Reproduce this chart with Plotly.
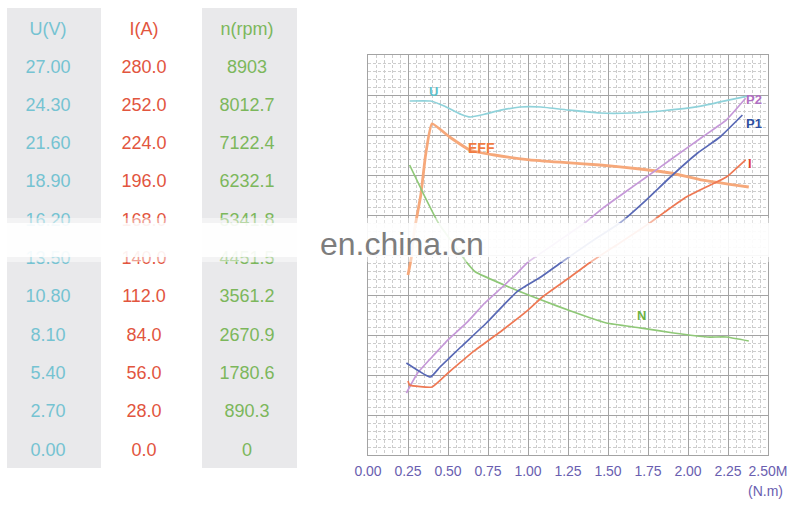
import plotly.graph_objects as go

# ---------------- table data ----------------
u_header = "U(V)"
i_header = "I(A)"
n_header = "n(rpm)"
u_values = ["27.00", "24.30", "21.60", "18.90", "16.20", "13.50", "10.80", "8.10", "5.40", "2.70", "0.00"]
i_values = ["280.0", "252.0", "224.0", "196.0", "168.0", "140.0", "112.0", "84.0", "56.0", "28.0", "0.0"]
n_values = ["8903", "8012.7", "7122.4", "6232.1", "5341.8", "4451.5", "3561.2", "2670.9", "1780.6", "890.3", "0"]

# ---------------- curve data (x: torque N.m, y: grid divisions) ----------------
U_x = [0.26, 0.39, 0.48, 0.58, 0.64, 0.73, 0.83, 0.95, 1.08, 1.26, 1.45, 1.64, 1.83, 2.08, 2.26, 2.38]
U_y = [8.85, 8.85, 8.72, 8.52, 8.45, 8.52, 8.62, 8.70, 8.70, 8.62, 8.55, 8.55, 8.60, 8.72, 8.88, 8.98]

EFF_x = [0.25, 0.27, 0.29, 0.33, 0.36, 0.40, 0.51, 0.64, 0.79, 1.01, 1.20, 1.45, 1.70, 1.89, 2.08, 2.38]
EFF_y = [4.50, 4.92, 5.62, 6.50, 7.50, 8.28, 7.95, 7.62, 7.50, 7.38, 7.32, 7.25, 7.15, 7.05, 6.88, 6.70]

N_x = [0.26, 0.35, 0.44, 0.53, 0.62, 0.67, 0.88, 1.08, 1.28, 1.49, 1.70, 1.91, 2.12, 2.24, 2.38]
N_y = [7.25, 6.50, 5.80, 5.30, 4.80, 4.58, 4.20, 3.88, 3.58, 3.30, 3.18, 3.05, 2.95, 2.95, 2.85]

P2_x = [0.24, 0.31, 0.40, 0.50, 0.62, 0.73, 0.84, 0.92, 1.00, 1.18, 1.36, 1.47, 1.61, 1.74, 1.89, 2.09, 2.24, 2.36]
P2_y = [1.55, 2.05, 2.45, 2.88, 3.32, 3.80, 4.20, 4.50, 4.82, 5.32, 5.82, 6.18, 6.58, 6.95, 7.38, 7.95, 8.38, 8.92]

P1_x = [0.24, 0.39, 0.45, 0.58, 0.74, 0.93, 1.08, 1.21, 1.39, 1.58, 1.74, 1.89, 2.06, 2.20, 2.34]
P1_y = [2.30, 1.95, 2.20, 2.70, 3.30, 4.08, 4.45, 4.82, 5.32, 5.82, 6.38, 6.95, 7.55, 7.95, 8.50]

I_x = [0.25, 0.26, 0.40, 0.50, 0.67, 0.84, 1.00, 1.09, 1.24, 1.39, 1.58, 1.76, 1.87, 1.99, 2.14, 2.24, 2.36]
I_y = [1.85, 1.75, 1.70, 2.05, 2.62, 3.12, 3.62, 3.95, 4.38, 4.82, 5.32, 5.80, 6.12, 6.45, 6.75, 6.95, 7.38]

x_tickvals = [0.0, 0.25, 0.5, 0.75, 1.0, 1.25, 1.5, 1.75, 2.0, 2.25, 2.5]
x_ticktext = ["0.00", "0.25", "0.50", "0.75", "1.00", "1.25", "1.50", "1.75", "2.00", "2.25", "2.50M"]

W, H = 800, 509
FONT = "Liberation Sans, Arial, sans-serif"
NARROW = "Liberation Sans Narrow, Arial Narrow, Liberation Sans, sans-serif"

fig = go.Figure()

series = [
    ("U", U_x, U_y, "#8fd2da", 1.7),
    ("EFF", EFF_x, EFF_y, "#f6a87a", 2.8),
    ("N", N_x, N_y, "#8fc877", 1.7),
    ("P2", P2_x, P2_y, "#c598d8", 1.7),
    ("P1", P1_x, P1_y, "#5868b5", 1.7),
    ("I", I_x, I_y, "#ee7853", 1.7),
]
for name, xs, ys, col, w in series:
    fig.add_trace(go.Scatter(x=xs, y=ys, mode="lines", name=name,
                             line=dict(color=col, width=w, shape="spline", smoothing=0.4),
                             xaxis="x", yaxis="y", showlegend=False, hoverinfo="skip"))

# curve labels
labels = [
    ("U", 0.41, 9.08, "#5cbfc9", 13),
    ("EFF", 0.71, 7.68, "#f07b42", 14),
    ("P2", 2.41, 8.88, "#b06fc2", 13),
    ("P1", 2.41, 8.28, "#2f4fa0", 13),
    ("I", 2.39, 7.30, "#e2432f", 13),
    ("N", 1.71, 3.48, "#6db23f", 13),
]
for t, lx, ly, c, fs in labels:
    fig.add_annotation(x=lx, y=ly, xref="x", yref="y", text="<b>%s</b>" % t, showarrow=False,
                       xanchor="center", yanchor="middle",
                       font=dict(family=FONT, size=fs, color=c))

# ---------------- table (left) ----------------
row_y = [68 + 38.3 * k for k in range(len(u_values))]
header_y = 30
cols = [
    (48, u_header, u_values, "#75c3d2"),
    (144, i_header, i_values, "#e2553e"),
    (247, n_header, n_values, "#7cb75b"),
]
for cx, head, vals, c in cols:
    fig.add_trace(go.Scatter(x=[cx] * (len(vals) + 1), y=[header_y] + row_y, mode="text",
                             text=[head] + vals, textposition="middle center",
                             textfont=dict(family=FONT, size=18, color=c),
                             xaxis="x2", yaxis="y2", showlegend=False, hoverinfo="skip"))

shapes = []
for x0, x1 in [(7, 101), (202, 297)]:
    shapes.append(dict(type="rect", xref="x2", yref="y2", x0=x0, x1=x1, y0=8, y1=468,
                       fillcolor="#e9e9eb", line=dict(width=0), layer="below"))

# watermark band
shapes.append(dict(type="rect", xref="paper", yref="paper", x0=0, x1=1,
                   y0=1 - 262 / H, y1=1 - 218 / H, fillcolor="white", opacity=0.45,
                   line=dict(width=0), layer="above"))
shapes.append(dict(type="rect", xref="paper", yref="paper", x0=0, x1=0.99,
                   y0=1 - 257 / H, y1=1 - 223 / H, fillcolor="white", opacity=0.85,
                   line=dict(width=0), layer="above"))

fig.add_annotation(x=402 / W, y=1 - 244 / H, xref="paper", yref="paper", text="en.china.cn",
                   showarrow=False, xanchor="center", yanchor="middle",
                   font=dict(family=FONT, size=32, color="#7d7d7d"))

fig.add_annotation(x=765 / W, y=1 - 491 / H, xref="paper", yref="paper", text="(N.m)",
                   showarrow=False, xanchor="center", yanchor="middle",
                   font=dict(family=NARROW, size=14, color="#6a5eb0"))

grid_major = "#a3a3a3"
grid_minor = "#cdcdcd"
fig.update_layout(
    width=W, height=H,
    margin=dict(l=0, r=0, t=0, b=0, autoexpand=False),
    paper_bgcolor="white", plot_bgcolor="white",
    shapes=shapes,
    xaxis=dict(domain=[368 / W, 768 / W], range=[0, 2.5], tickvals=x_tickvals, ticktext=x_ticktext,
               showgrid=True, gridcolor=grid_major, gridwidth=1, zeroline=False,
               showline=True, mirror=True, linecolor=grid_major, linewidth=1,
               ticks="outside", ticklen=3, tickcolor="rgba(0,0,0,0)", automargin=False,
               tickfont=dict(family=NARROW, size=14, color="#6a5eb0"),
               minor=dict(dtick=0.05, showgrid=True, gridcolor=grid_minor, griddash="3px,2px", gridwidth=1),
               fixedrange=True),
    yaxis=dict(domain=[1 - 455 / H, 1 - 55 / H], range=[0, 10], dtick=1,
               showgrid=True, gridcolor=grid_major, gridwidth=1, zeroline=False,
               showline=True, mirror=True, linecolor=grid_major, linewidth=1,
               showticklabels=False, automargin=False,
               minor=dict(dtick=0.2, showgrid=True, gridcolor=grid_minor, griddash="3px,2px", gridwidth=1),
               fixedrange=True),
    xaxis2=dict(domain=[0, 304 / W], range=[0, 304], visible=False, anchor="y2", fixedrange=True),
    yaxis2=dict(domain=[0, 1], range=[H, 0], visible=False, anchor="x2", fixedrange=True),
)

fig.write_html("out.html", config={"displayModeBar": False},
               post_script="document.body.style.margin='0';document.body.style.padding='0';"
                           "document.body.style.overflow='hidden';")
